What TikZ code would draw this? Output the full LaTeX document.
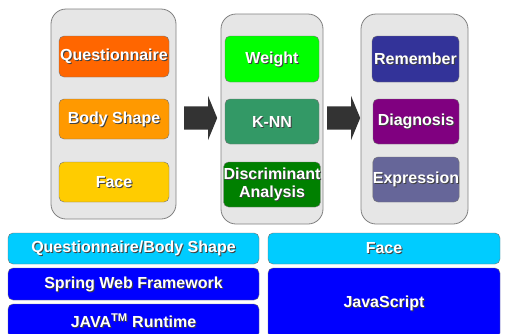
\documentclass[tikz,border=0pt]{standalone}
\usepackage{fontspec}
\setmainfont{Liberation Sans}
\usetikzlibrary{shapes.arrows}

\definecolor{panelgray}{HTML}{E6E6E6}
\definecolor{qorange}{HTML}{FF6600}
\definecolor{borange}{HTML}{FF9900}
\definecolor{fyellow}{HTML}{FFCC00}
\definecolor{wgreen}{HTML}{00FF00}
\definecolor{kgreen}{HTML}{339966}
\definecolor{dgreen}{HTML}{008000}
\definecolor{rblue}{HTML}{333399}
\definecolor{dpurple}{HTML}{800080}
\definecolor{eslate}{HTML}{666699}
\definecolor{lcyan}{HTML}{00CCFF}
\definecolor{sblue}{HTML}{0000FF}

% white text with a dark drop shadow
\newcommand{\shtxt}[1]{\makebox[0pt][l]{\hspace{1pt}\smash{\raisebox{-1pt}{\textcolor{black!75}{#1}}}}#1}

\begin{document}
\begin{tikzpicture}[x=1pt,y=-1pt,
    panel/.style={draw=black!50,fill=panelgray,rounded corners=15pt,line width=0.8pt},
    tile/.style={draw=black!55,rounded corners=5pt,text=white,inner sep=0pt,align=center,
      font=\bfseries\fontsize{16}{18.5}\selectfont},
    bigarrow/.style={single arrow,fill=black!80,inner sep=0pt,text height=23pt,
      minimum height=33pt,single arrow head extend=10.5pt,single arrow tip angle=135,anchor=tail}]
    \useasboundingbox (0,0) rectangle (507,333);
    \clip (0,0) rectangle (507,333);
    % three columns
    \node[panel,minimum width=125pt,minimum height=210pt] (inp) at (113.5,114) {};
    \node[panel,minimum width=102pt,minimum height=210pt] (alg) at (272,119) {};
    \node[panel,minimum width=107pt,minimum height=210pt] (res) at (414.5,119) {};
    \node[bigarrow] (arA) at (184,118) {};
    \node[bigarrow] (arB) at (327,118) {};
    % inputs
    \node[tile,fill=qorange,minimum width=110pt,minimum height=41pt] (ques) at (114,56.5) {\shtxt{Questionnaire}};
    \node[tile,fill=borange,minimum width=110pt,minimum height=40pt] (body) at (114,119) {\shtxt{Body Shape}};
    \node[tile,fill=fyellow,minimum width=110pt,minimum height=40pt] (face) at (114,182) {\shtxt{Face}};
    % methods
    \node[tile,fill=wgreen,minimum width=94pt,minimum height=46pt] (wgt) at (272,59) {\shtxt{Weight}};
    \node[tile,fill=kgreen,minimum width=94pt,minimum height=45pt] (knn) at (272,121.5) {\shtxt{K-NN}};
    \node[tile,fill=dgreen,minimum width=94pt,minimum height=45pt] (disc) at (272,184.5) {\shtxt{Discriminant}\\\shtxt{Analysis}};
    % outputs
    \node[tile,fill=rblue,minimum width=87pt,minimum height=46pt] (rem) at (415.5,59) {\shtxt{Remember}};
    \node[tile,fill=dpurple,minimum width=86pt,minimum height=45pt] (diag) at (416,121.5) {\shtxt{Diagnosis}};
    \node[tile,fill=eslate,minimum width=86pt,minimum height=45pt] (expr) at (416,179.5) {\shtxt{Expression}};
    % platform layers
    \node[tile,fill=lcyan,minimum width=251pt,minimum height=31pt] (qbl) at (133.5,248.5) {\shtxt{Questionnaire/Body Shape}};
    \node[tile,fill=lcyan,minimum width=232pt,minimum height=31pt] (fal) at (384,248.5) {\shtxt{Face}};
    \node[tile,fill=sblue,minimum width=251pt,minimum height=32pt] (spr) at (133.5,284) {\shtxt{Spring Web Framework}};
    \node[tile,fill=sblue,minimum width=251pt,minimum height=34pt] (jvm) at (133.5,321) {\shtxt{JAVA\textsuperscript{TM} Runtime}};
    \node[tile,fill=sblue,minimum width=232pt,minimum height=70pt] (jsl) at (384,303) {\shtxt{JavaScript}};
\end{tikzpicture}
\end{document}
